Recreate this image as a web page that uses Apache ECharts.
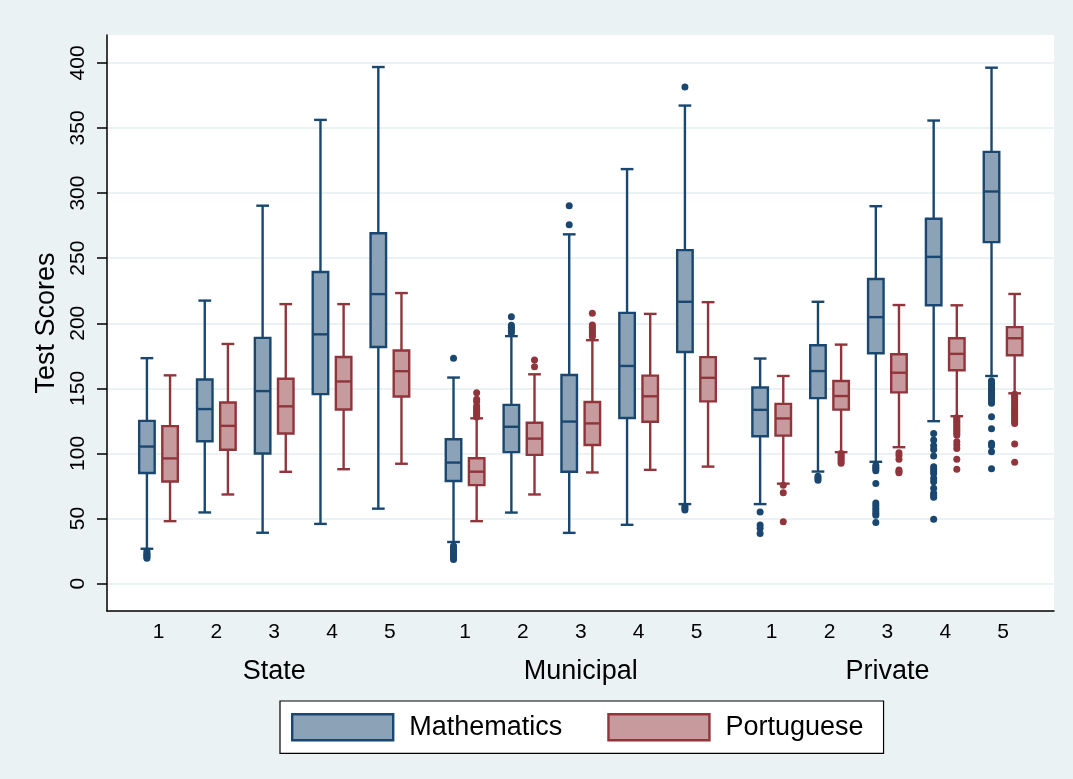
<!DOCTYPE html>
<html>
<head>
<meta charset="utf-8">
<script src="https://cdn.jsdelivr.net/npm/echarts@6/dist/echarts.min.js"></script>
<style>
html,body{margin:0;padding:0;background:#eaf2f3;}
#c{width:1073px;height:779px;}
</style>
</head>
<body>
<div id="c"></div>
<script>
// ---------------- data ----------------
const groups = ['State', 'Municipal', 'Private'];
const grades = ['1', '2', '3', '4', '5'];
const subjects = ['Mathematics', 'Portuguese'];
const yTicks = [0, 50, 100, 150, 200, 250, 300, 350, 400];

// [lower whisker, Q1, median, Q3, upper whisker]; State 1-5, Municipal 1-5, Private 1-5
const mathBoxes = [
  [26.8, 85.0, 105.3, 125.0, 173.2],
  [54.7, 109.4, 134.1, 156.8, 217.4],
  [39.1, 100.0, 147.9, 188.8, 290.3],
  [45.9, 145.6, 191.5, 239.4, 356.2],
  [57.6, 181.8, 222.4, 269.1, 396.8],
  [32.0, 78.9, 93.0, 110.9, 158.3],
  [54.6, 101.0, 120.5, 137.3, 190.1],
  [39.0, 86.0, 124.5, 160.3, 268.3],
  [45.2, 127.2, 167.2, 208.0, 318.4],
  [61.1, 177.9, 216.5, 256.2, 367.2],
  [61.1, 113.2, 133.5, 150.7, 172.9],
  [86.1, 142.5, 163.3, 183.1, 216.5],
  [93.6, 177.0, 204.7, 234.0, 289.9],
  [124.8, 213.8, 251.0, 280.3, 355.7],
  [159.5, 262.3, 301.2, 331.6, 396.3]
];
const portBoxes = [
  [48.0, 78.5, 96.2, 121.0, 160.0],
  [68.5, 102.9, 121.2, 139.1, 184.1],
  [85.9, 115.3, 136.2, 157.4, 214.7],
  [87.9, 133.8, 155.3, 174.1, 214.7],
  [92.1, 143.8, 163.2, 179.1, 223.2],
  [48.0, 75.7, 86.0, 96.3, 127.0],
  [68.5, 98.9, 111.4, 123.6, 160.8],
  [85.4, 106.5, 123.1, 139.5, 187.0],
  [87.4, 124.4, 143.9, 159.8, 207.2],
  [89.9, 140.0, 158.1, 174.0, 216.2],
  [76.8, 113.7, 126.9, 138.1, 159.5],
  [101.0, 133.7, 144.1, 155.7, 183.6],
  [104.8, 146.9, 162.0, 176.2, 214.0],
  [128.6, 163.9, 176.5, 188.5, 213.8],
  [146.2, 175.4, 188.5, 197.0, 222.5]
];
// outside values per box, same order
const mathOutliers = [
  [19.5, 20.5, 21.5, 22.5, 23.5, 25.0],
  [], [], [], [],
  [173.1, 18.5, 20.0, 21.5, 23.0, 24.5, 26.0, 27.5, 29.0],
  [205.0, 198.5, 197.0, 195.5, 194.0, 192.5],
  [290.2, 275.7],
  [],
  [381.5, 59.5, 58.0, 56.5],
  [55.0, 45.0, 42.5, 38.6],
  [82.5, 81.0, 79.5],
  [91.0, 89.5, 88.0, 86.8, 77.0, 62.0, 60.0, 58.0, 56.0, 54.0, 52.5, 47.0],
  [115.4, 110.3, 106.0, 103.1, 98.0, 89.8, 88.0, 86.5, 84.7, 81.0, 78.3, 73.2, 69.4, 67.8, 66.3, 49.4],
  [155.9, 154.5, 153.0, 151.5, 150.0, 148.5, 147.0, 145.5, 144.0, 142.0, 140.5, 138.5, 128.2, 119.0, 107.8, 106.0, 101.4, 88.3]
];
const portOutliers = [
  [], [], [], [], [],
  [146.7, 141.6, 140.0, 136.5, 135.0, 133.5, 132.0, 130.5, 129.0, 128.0],
  [171.8, 166.6],
  [207.7, 198.7, 197.0, 195.5, 194.0, 192.5, 191.0, 189.8],
  [],
  [],
  [75.5, 69.9, 47.6],
  [100.0, 98.5, 97.0, 95.5, 94.0, 92.5],
  [100.6, 98.5, 95.5, 87.3, 86.2, 85.2],
  [127.5, 126.0, 124.5, 123.0, 121.5, 120.0, 118.5, 117.0, 115.5, 114.0, 109.0, 106.5, 103.9, 95.5, 87.8],
  [145.5, 144.0, 142.5, 141.0, 139.5, 138.0, 136.5, 135.0, 133.5, 132.0, 130.5, 129.0, 127.5, 126.0, 124.5, 123.0, 107.2, 93.2]
];

// ---------------- layout / style ----------------
const FONT = 'Liberation Sans, Arial, Helvetica, sans-serif';
const GROUP_STEP = 5.3;          // grade slots per group incl. gap
const SUB_OFFSET = 0.2;          // subject offset from grade centre
const BOX_HALF = 0.134;
const CAP_HALF = 0.11;
const LW = 2.4;
const X_MIN = -0.89, X_MAX = 15.48;
const Y_MIN = -21.0, Y_MAX = 421.4;
const colors = {
  Mathematics: { stroke: '#1a476f', fill: '#8ca3b7' },
  Portuguese: { stroke: '#90353b', fill: '#c79a9d' }
};

function xPos(i) { return Math.floor(i / grades.length) * GROUP_STEP + (i % grades.length); }
const gradePositions = [], gradeLabelMap = {};
groups.forEach((g, gi) => grades.forEach((gr, k) => {
  const p = xPos(gi * grades.length + k);
  gradePositions.push(p);
  gradeLabelMap[p.toFixed(3)] = gr;
}));
const groupPositions = [], groupLabelMap = {};
groups.forEach((g, gi) => {
  const p = (xPos(gi * grades.length) + xPos(gi * grades.length + grades.length - 1)) / 2;
  groupPositions.push(p);
  groupLabelMap[p.toFixed(3)] = g;
});

function boxData(boxes, off) {
  return boxes.map((b, i) => [xPos(i) + off].concat(b));
}
function outlierData(outs, off) {
  const d = [];
  outs.forEach((arr, i) => arr.forEach(v => d.push([xPos(i) + off, v])));
  return d;
}
function makeRender(stroke, fill) {
  return function (params, api) {
    const x = api.value(0);
    const lo = api.coord([x, api.value(1)]);
    const q1 = api.coord([x, api.value(2)]);
    const md = api.coord([x, api.value(3)]);
    const q3 = api.coord([x, api.value(4)]);
    const hi = api.coord([x, api.value(5)]);
    const hw = api.size([BOX_HALF, 0])[0];
    const cw = api.size([CAP_HALF, 0])[0];
    const cx = lo[0];
    const ls = { stroke: stroke, lineWidth: LW, fill: null };
    return {
      type: 'group',
      children: [
        { type: 'line', shape: { x1: cx, y1: hi[1], x2: cx, y2: q3[1] }, style: ls },
        { type: 'line', shape: { x1: cx, y1: q1[1], x2: cx, y2: lo[1] }, style: ls },
        { type: 'line', shape: { x1: cx - cw, y1: hi[1], x2: cx + cw, y2: hi[1] }, style: ls },
        { type: 'line', shape: { x1: cx - cw, y1: lo[1], x2: cx + cw, y2: lo[1] }, style: ls },
        { type: 'rect', shape: { x: cx - hw, y: q3[1], width: 2 * hw, height: q1[1] - q3[1] },
          style: { fill: fill, stroke: stroke, lineWidth: LW } },
        { type: 'line', shape: { x1: cx - hw, y1: md[1], x2: cx + hw, y2: md[1] }, style: ls }
      ]
    };
  };
}

const series = [];
[[subjects[0], mathBoxes, mathOutliers, -SUB_OFFSET], [subjects[1], portBoxes, portOutliers, SUB_OFFSET]]
  .forEach(([name, boxes, outs, off]) => {
    const c = colors[name];
    series.push({
      type: 'custom', name: name, xAxisIndex: 0, yAxisIndex: 0,
      renderItem: makeRender(c.stroke, c.fill),
      encode: { x: 0, y: [1, 2, 3, 4, 5] },
      itemStyle: { color: c.fill, borderColor: c.stroke },
      data: boxData(boxes, off), silent: true, z: 3
    });
    series.push({
      type: 'scatter', name: name, xAxisIndex: 0, yAxisIndex: 0,
      symbol: 'circle', symbolSize: 7,
      itemStyle: { color: c.stroke, opacity: 1 },
      data: outlierData(outs, off), silent: true, z: 4
    });
  });

const chart = echarts.init(document.getElementById('c'), null, { renderer: 'canvas' });
chart.setOption({
  animation: false,
  backgroundColor: '#eaf2f3',
  textStyle: { fontFamily: FONT },
  grid: [
    { left: 107, right: 19, top: 35, bottom: 168, show: true, backgroundColor: '#ffffff', borderWidth: 0 },
    { left: 107, right: 19, top: 35, bottom: 168, show: false }
  ],
  xAxis: [
    {
      type: 'value', gridIndex: 0, min: X_MIN, max: X_MAX, position: 'bottom',
      axisLine: { show: true, onZero: false, lineStyle: { color: '#000', width: 1.5 } },
      axisTick: { show: false },
      splitLine: { show: false },
      axisLabel: {
        customValues: gradePositions, margin: 11, fontSize: 21, color: '#000', fontFamily: FONT,
        formatter: v => gradeLabelMap[Number(v).toFixed(3)] || ''
      }
    },
    {
      type: 'value', gridIndex: 1, min: X_MIN, max: X_MAX, position: 'bottom',
      axisLine: { show: false }, axisTick: { show: false }, splitLine: { show: false },
      axisLabel: {
        customValues: groupPositions, margin: 47, fontSize: 27, color: '#000', fontFamily: FONT,
        formatter: v => groupLabelMap[Number(v).toFixed(3)] || ''
      }
    }
  ],
  yAxis: [
    {
      type: 'value', gridIndex: 0, min: Y_MIN, max: Y_MAX,
      name: 'Test Scores', nameLocation: 'middle', nameGap: 46, nameRotate: 90,
      nameTextStyle: { fontSize: 27, color: '#000', fontFamily: FONT },
      axisLine: { show: true, onZero: false, lineStyle: { color: '#000', width: 1.5 } },
      axisTick: { show: true, length: 10, customValues: yTicks, lineStyle: { color: '#000', width: 1.5 } },
      axisLabel: { customValues: yTicks, rotate: 90, margin: 18, fontSize: 21, color: '#000', fontFamily: FONT },
      splitLine: { show: true, lineStyle: { color: '#eaf2f3', width: 2 } }
    },
    { type: 'value', gridIndex: 1, min: Y_MIN, max: Y_MAX, show: false }
  ],
  legend: {
    left: 280, top: 701, orient: 'horizontal',
    data: subjects.map(s => ({
      name: s, icon: 'rect',
      itemStyle: { color: colors[s].fill, borderColor: colors[s].stroke, borderWidth: 2.4 }
    })),
    itemWidth: 101, itemHeight: 26, itemGap: 45,
    padding: [12, 20, 12, 11],
    backgroundColor: '#ffffff', borderColor: '#000', borderWidth: 1.2, borderRadius: 0,
    textStyle: { fontSize: 27, color: '#000', fontFamily: FONT, padding: [0, 0, 0, 11] }
  },
  series: series
});
</script>
</body>
</html>
